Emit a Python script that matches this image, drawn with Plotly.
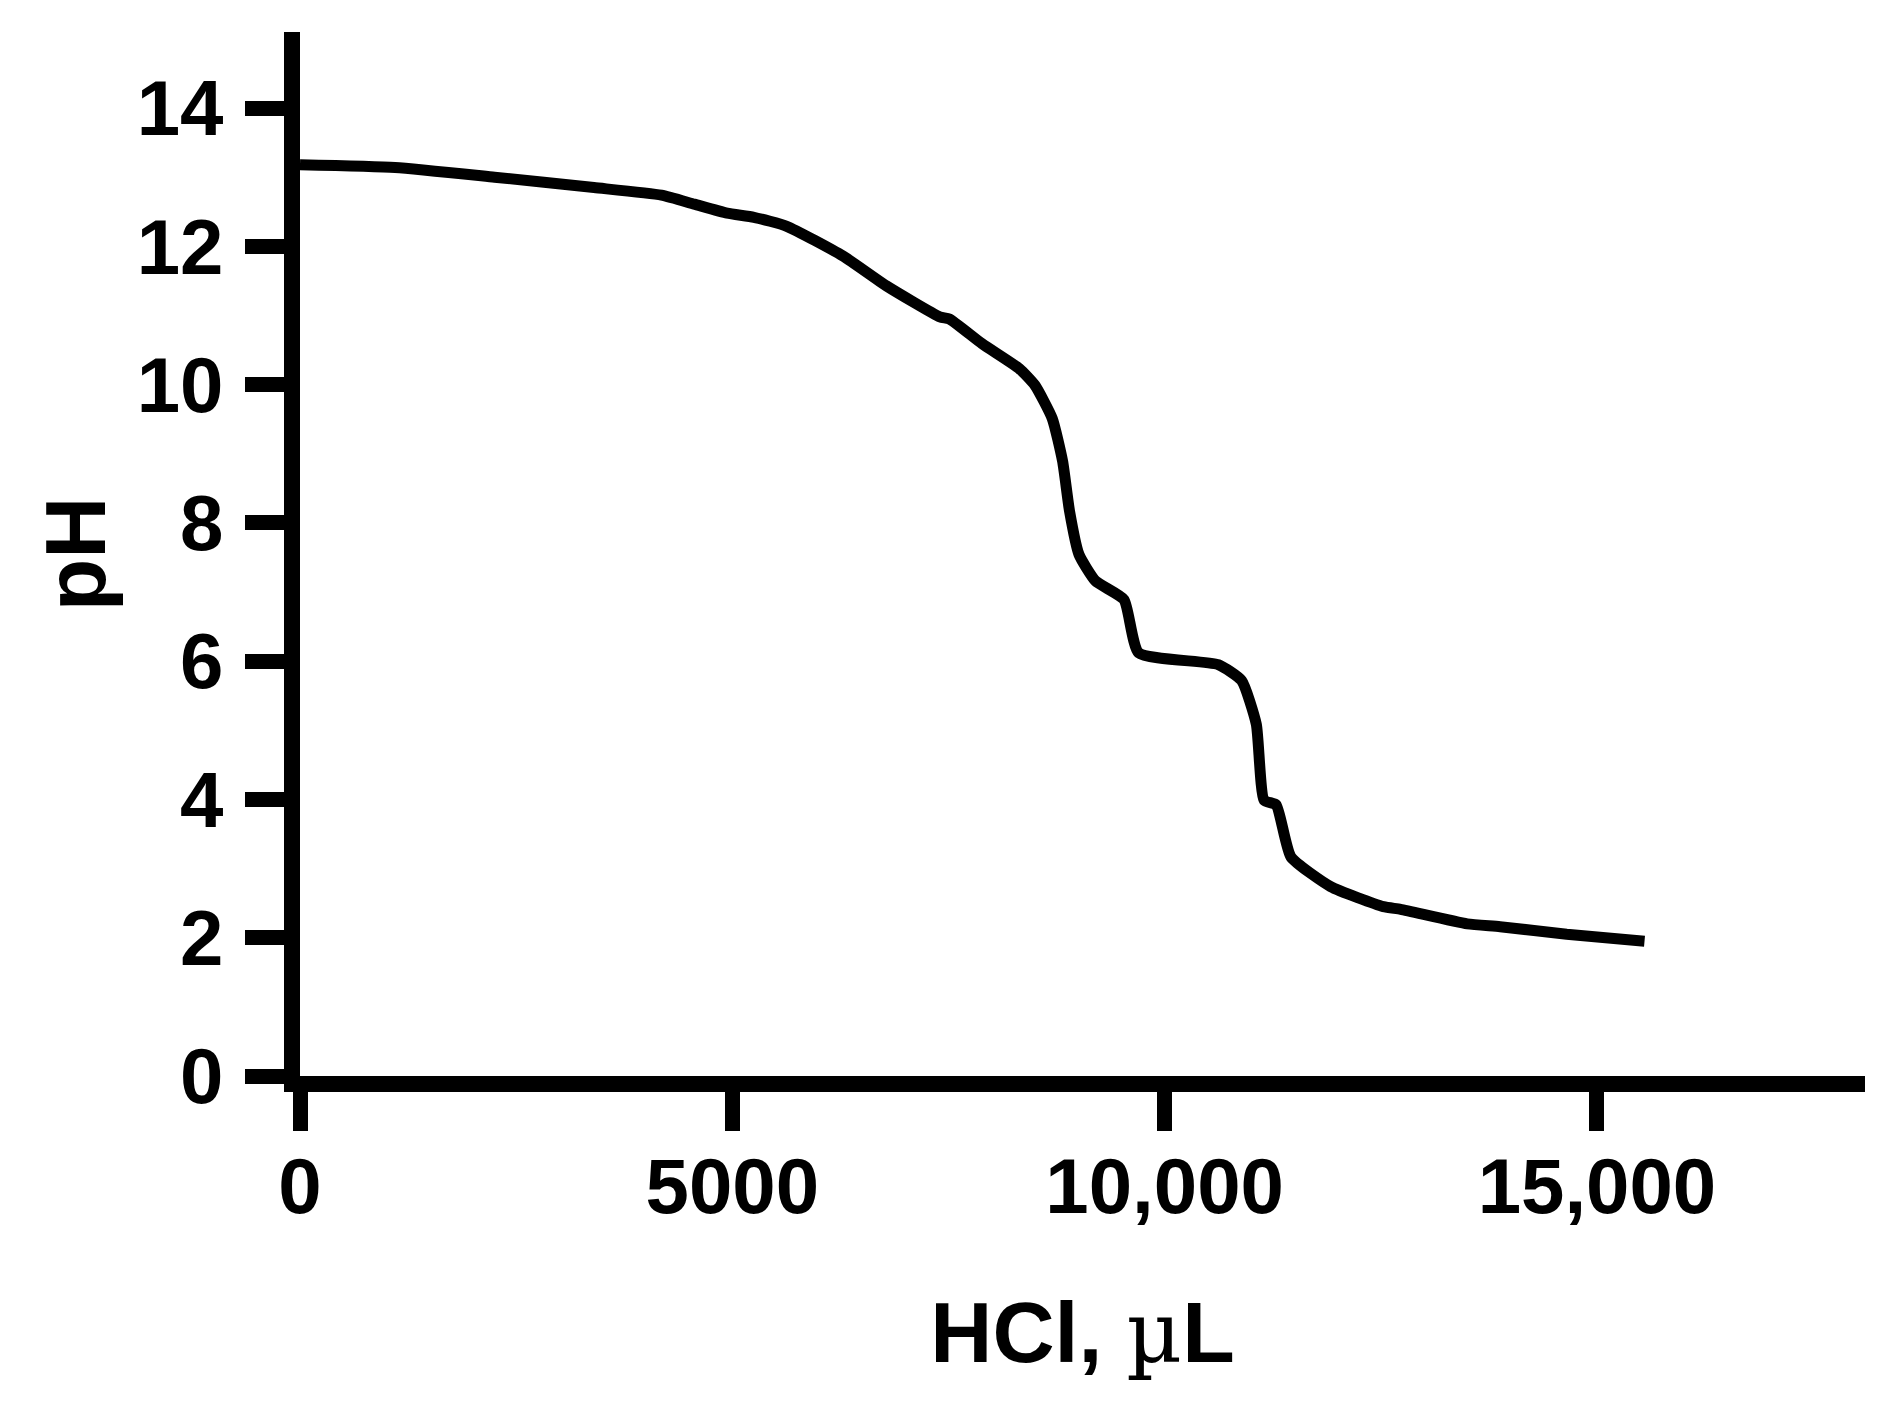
import plotly.graph_objects as go

# HCl titration curve
hcl_ul = [0, 1100, 2250, 3400, 4180, 4560, 4940, 5250, 5630, 6280, 6780, 7400, 7510,
          7890, 8320, 8500, 8700, 8820, 8900, 9010, 9200, 9530, 9700, 10620, 10890,
          11060, 11150, 11290, 11460, 11920, 12530, 12730, 13500, 13880, 14650, 15550]
ph = [13.18, 13.14, 13.0, 12.85, 12.74, 12.61, 12.48, 12.42, 12.29, 11.86, 11.43, 10.98, 10.95,
      10.59, 10.23, 9.99, 9.51, 8.89, 8.17, 7.54, 7.16, 6.89, 6.12, 5.95, 5.72,
      5.09, 3.99, 3.92, 3.17, 2.74, 2.45, 2.41, 2.2, 2.16, 2.05, 1.95]

x_ticks = [0, 5000, 10000, 15000]
x_tick_labels = ["0", "5000", "10,000", "15,000"]
y_ticks = [0, 2, 4, 6, 8, 10, 12, 14]

font_family = "Liberation Sans, Arial, sans-serif"

fig = go.Figure()
fig.add_trace(go.Scatter(x=hcl_ul, y=ph, mode="lines",
                         line=dict(color="black", width=11, shape="spline", smoothing=0.5),
                         showlegend=False))

# page body has an 8px margin, so the figure is sized to fit inside it
fig.update_layout(
    width=1888, height=1401,
    plot_bgcolor="white", paper_bgcolor="white",
    margin=dict(l=292, r=31, t=24, b=333, pad=0),
    font=dict(family=font_family, color="black", size=78, weight="bold"),
)

fig.update_xaxes(
    range=[0, 18100], tickvals=x_ticks, ticktext=x_tick_labels,
    showgrid=False, zeroline=False, automargin=False,
    showline=True, linecolor="black", linewidth=16,
    ticks="outside", ticklen=39, tickwidth=15, tickcolor="black",
    ticklabelstandoff=-12,
    tickfont=dict(size=78, family=font_family, weight="bold"),
    title=dict(text="HCl, <span style='font-family:DejaVu Serif;font-weight:normal'>µ</span>L",
               font=dict(size=86, family=font_family, weight="bold"), standoff=80),
)
fig.update_yaxes(
    range=[0, 15.1], tickvals=y_ticks,
    showgrid=False, zeroline=False, automargin=False,
    showline=True, linecolor="black", linewidth=16,
    ticks="outside", ticklen=39, tickwidth=15, tickcolor="black",
    ticklabelstandoff=6,
    tickfont=dict(size=78, family=font_family, weight="bold"),
    title=dict(text="pH", font=dict(size=86, family=font_family, weight="bold"), standoff=10),
)

fig.write_html("out.html")
